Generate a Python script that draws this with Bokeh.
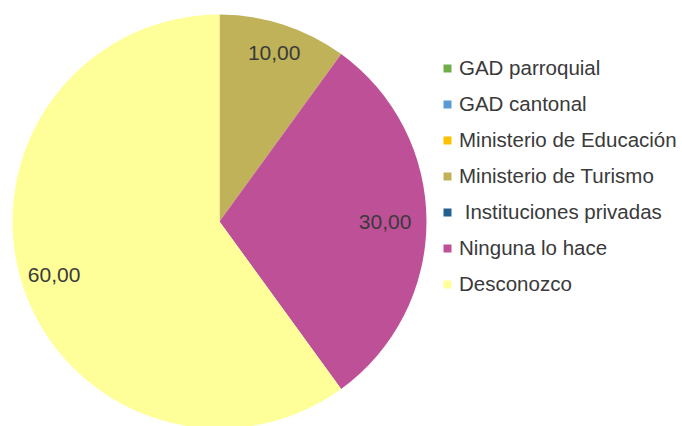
import math
from bokeh.plotting import figure
from bokeh.models import ColumnDataSource, Range1d, Legend, LegendItem
from bokeh.core.properties import value
from bokeh.embed import file_html
from bokeh.resources import INLINE

categories = ["GAD parroquial", "GAD cantonal", "Ministerio de Educación",
              "Ministerio de Turismo", " Instituciones privadas",
              "Ninguna lo hace", "Desconozco"]
values = [0.0, 0.0, 0.0, 10.0, 0.0, 30.0, 60.0]
labels = ["", "", "", "10,00", "", "30,00", "60,00"]
colors = ["#70AD47", "#5B9BD5", "#FFC000", "#C0B258", "#255E91", "#BE5098", "#FFFF99"]
label_frac = [0.85, 0.85, 0.85, 0.855, 0.85, 0.80, 0.84]

W, H = 682, 426
cx, cy, R = 219, 205, 207

total = sum(values)
starts, ends, lx, ly, radii = [], [], [], [], []
cum = 0.0
for v, f in zip(values, label_frac):
    a0 = math.pi / 2 - cum / total * 2 * math.pi
    cum += v
    a1 = math.pi / 2 - cum / total * 2 * math.pi
    starts.append(a0)
    ends.append(a1)
    radii.append(R if v > 0 else 0)
    mid = (a0 + a1) / 2
    lx.append(cx + f * R * math.cos(mid))
    ly.append(cy + f * R * math.sin(mid))

src = ColumnDataSource(dict(cat=categories, val=values, start=starts, end=ends,
                            rad=radii, color=colors, lab=labels, lx=lx, ly=ly))

p = figure(width=W, height=H, x_range=Range1d(0, W), y_range=Range1d(0, H),
           output_backend="svg", toolbar_location=None, min_border=0)
p.axis.visible = False
p.grid.visible = False
p.outline_line_color = None

r = p.wedge(x=cx, y=cy, radius="rad", start_angle="start", end_angle="end",
            direction="clock", fill_color="color", line_color=None, source=src)

p.text(x="lx", y="ly", text="lab", source=src, text_align="center",
       text_baseline="middle", text_font=value("Liberation Sans"),
       text_font_size="21px", text_color="#3a3a3a")

legend = Legend(items=[LegendItem(label={"field": "cat"}, renderers=[r])],
                location=(442, 130))
legend.glyph_width = 10
legend.glyph_height = 10
legend.label_standoff = 7
legend.label_text_font = "Liberation Sans"
legend.label_text_font_size = "20.5px"
legend.label_text_color = "#3a3a3a"
legend.label_height = 20
legend.spacing = 12
legend.padding = 0
legend.margin = 0
legend.border_line_color = None
legend.background_fill_alpha = 0
p.add_layout(legend, "center")

open("out.html", "w").write(file_html(p, INLINE))
